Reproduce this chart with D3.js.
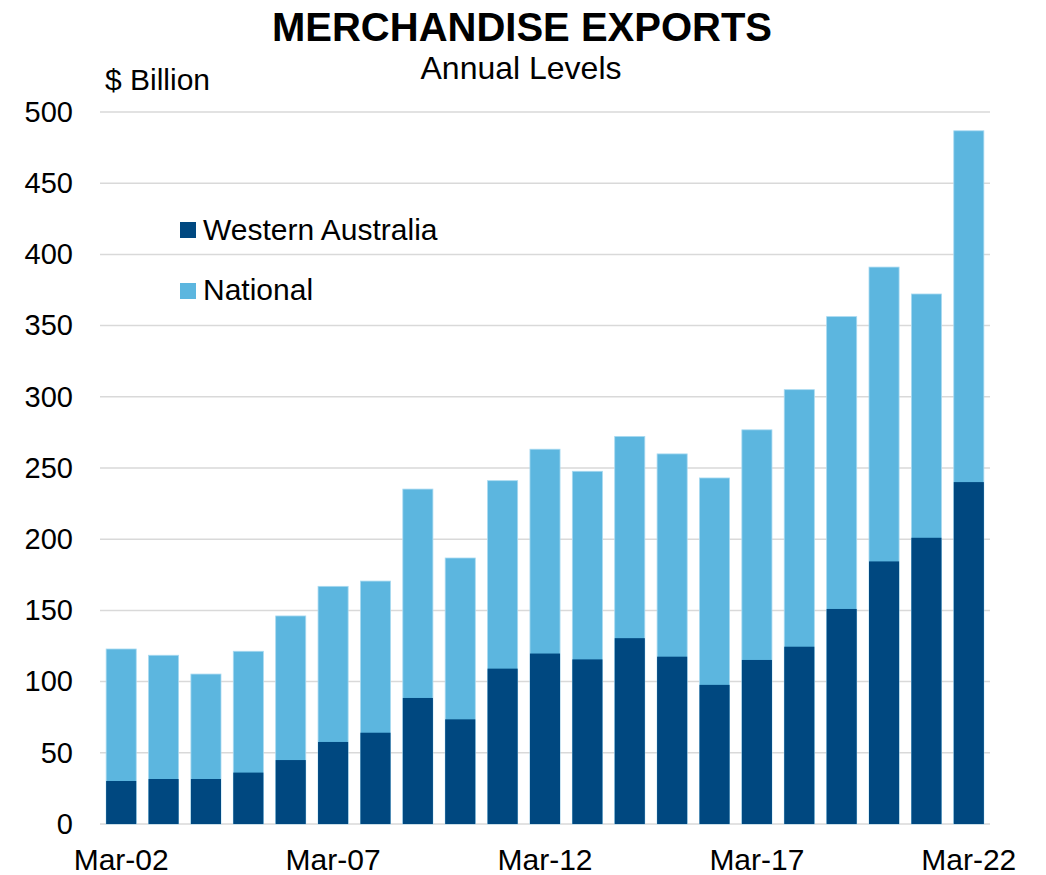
<html>
<head>
<meta charset="utf-8">
<script src="https://d3js.org/d3.v7.min.js"></script>
<style>
  body { margin: 0; background: #ffffff; }
  text { font-family: "Liberation Sans", Arial, sans-serif; fill: #000; }
</style>
</head>
<body>
<div id="chart"></div>
<script>
// data
var years = ["Mar-02","Mar-03","Mar-04","Mar-05","Mar-06","Mar-07","Mar-08","Mar-09","Mar-10","Mar-11",
             "Mar-12","Mar-13","Mar-14","Mar-15","Mar-16","Mar-17","Mar-18","Mar-19","Mar-20","Mar-21","Mar-22"];
var national = [122.9, 118.5, 105.3, 121.3, 146.1, 166.9, 170.6, 235.2, 186.8, 241.1,
                263.2, 247.7, 272.2, 259.9, 243.0, 276.8, 305.0, 356.3, 391.1, 372.2, 486.8];
var westernAustralia = [30.2, 31.6, 31.6, 36.1, 44.9, 57.6, 64.1, 88.5, 73.5, 109.1,
                        119.7, 115.6, 130.5, 117.5, 97.7, 115.2, 124.5, 151.0, 184.4, 201.0, 240.1];
var yTicks = [0, 50, 100, 150, 200, 250, 300, 350, 400, 450, 500];
var xLabels = ["Mar-02", "Mar-07", "Mar-12", "Mar-17", "Mar-22"];

var W = 1046, H = 875;
var margin = {top: 112, right: 56, bottom: 51, left: 100};
var width = W - margin.left - margin.right,
    height = H - margin.top - margin.bottom;

var svg = d3.select("#chart").append("svg")
    .attr("width", W)
    .attr("height", H);

// titles
svg.append("text")
    .attr("x", 522).attr("y", 41)
    .attr("text-anchor", "middle")
    .style("font-size", "40px").style("font-weight", "bold")
    .text("MERCHANDISE EXPORTS");
svg.append("text")
    .attr("x", 521).attr("y", 79)
    .attr("text-anchor", "middle")
    .style("font-size", "32px")
    .text("Annual Levels");
svg.append("text")
    .attr("x", 105).attr("y", 90)
    .style("font-size", "30px")
    .text("$ Billion");

var g = svg.append("g")
    .attr("transform", "translate(" + margin.left + "," + margin.top + ")");

var x = d3.scaleBand()
    .domain(years)
    .range([0, width])
    .paddingInner(0.29)
    .paddingOuter(0.145);

var y = d3.scaleLinear()
    .domain([0, 500])
    .range([height, 0]);

// gridlines
g.selectAll(".grid")
  .data(yTicks)
  .enter().append("line")
    .attr("x1", 0).attr("x2", width)
    .attr("y1", function(d) { return y(d); })
    .attr("y2", function(d) { return y(d); })
    .style("stroke", "#d9d9d9")
    .style("stroke-width", 1.5);

// y axis labels
var yAxis = g.append("g")
    .call(d3.axisLeft(y).tickValues(yTicks).tickSize(0).tickPadding(27));
yAxis.select(".domain").remove();
yAxis.selectAll("text")
    .style("font-size", "29px")
    .style("font-family", "Liberation Sans, Arial, sans-serif")
    .attr("fill", "#000");

// national bars (total)
g.selectAll(".nat")
  .data(national)
  .enter().append("rect")
    .attr("x", function(d, i) { return x(years[i]); })
    .attr("y", function(d) { return y(d); })
    .attr("width", x.bandwidth())
    .attr("height", function(d) { return height - y(d); })
    .style("fill", "#5cb6df")
    .style("stroke", "#a9daf1")
    .style("stroke-width", 0.8);

// WA bars
g.selectAll(".wa")
  .data(westernAustralia)
  .enter().append("rect")
    .attr("x", function(d, i) { return x(years[i]); })
    .attr("y", function(d) { return y(d); })
    .attr("width", x.bandwidth())
    .attr("height", function(d) { return height - y(d); })
    .style("fill", "#004880");

// x labels
g.selectAll(".xl")
  .data(xLabels)
  .enter().append("text")
    .attr("x", function(d) { return x(d) + x.bandwidth() / 2; })
    .attr("y", height + 46)
    .attr("text-anchor", "middle")
    .style("font-size", "30px")
    .text(function(d) { return d; });

// legend
var legend = [{name: "Western Australia", color: "#004880"}, {name: "National", color: "#5cb6df"}];
var lg = svg.append("g").attr("transform", "translate(180,222)");
lg.selectAll("rect")
  .data(legend)
  .enter().append("rect")
    .attr("x", 0)
    .attr("y", function(d, i) { return i * 61; })
    .attr("width", 16).attr("height", 16)
    .style("fill", function(d) { return d.color; });
lg.selectAll("text")
  .data(legend)
  .enter().append("text")
    .attr("x", 23)
    .attr("y", function(d, i) { return i * 60 + 18; })
    .style("font-size", "30px")
    .text(function(d) { return d.name; });
</script>
</body>
</html>
